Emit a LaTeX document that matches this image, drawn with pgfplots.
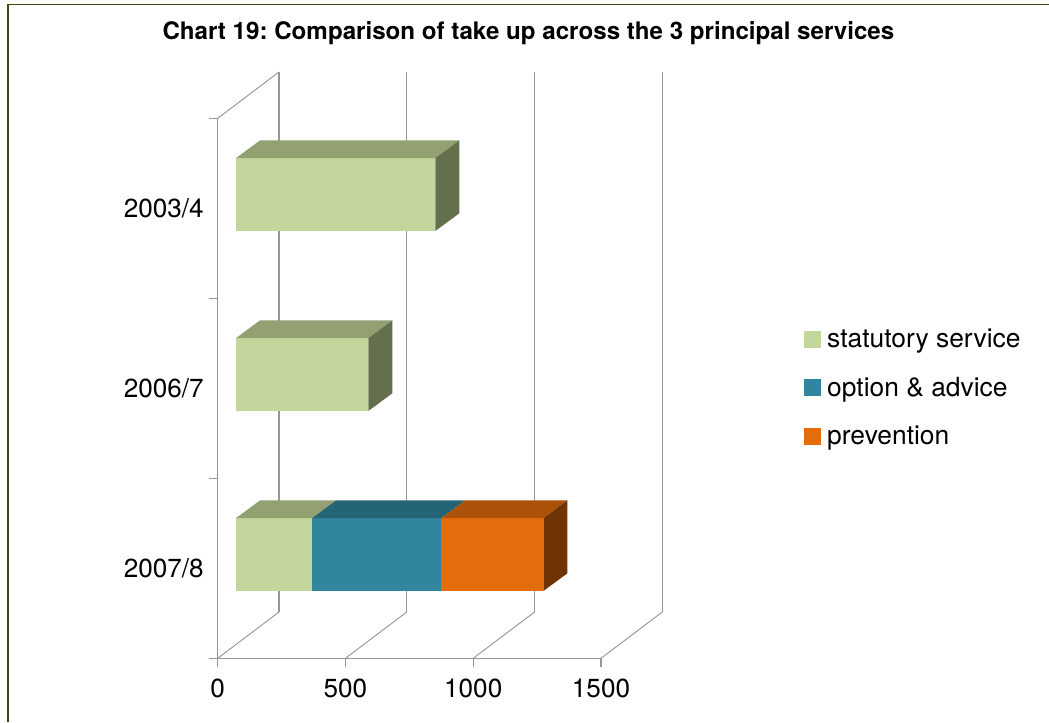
\documentclass[border=0pt]{standalone}
\usepackage{pgfplots}
\pgfplotsset{compat=1.18}
\usepackage{fontspec}
\setmainfont{TeX Gyre Heros}
\frenchspacing

\definecolor{greenfront}{HTML}{C3D69B}
\definecolor{greentop}{HTML}{92A072}
\definecolor{greenside}{HTML}{64704C}
\definecolor{tealfront}{HTML}{31859C}
\definecolor{tealtop}{HTML}{256475}
\definecolor{orangefront}{HTML}{E46C0A}
\definecolor{orangetop}{HTML}{AB5108}
\definecolor{orangeside}{HTML}{6E3406}
\definecolor{gridgray}{HTML}{969696}
\definecolor{framecol}{HTML}{45450F}

% one stacked block: start value, length, category level, front and top colours
\newcommand{\stackblock}[5]{%
  \pgfmathsetmacro{\xa}{71.6+#1}%
  \pgfmathsetmacro{\xb}{71.6+#1+#2}%
  \pgfmathsetmacro{\xc}{\xa+94}%
  \pgfmathsetmacro{\xd}{\xb+94}%
  \pgfmathsetmacro{\yb}{#3+0.374}%
  \pgfmathsetmacro{\yt}{\yb+0.405}%
  \pgfmathsetmacro{\ybk}{\yt+0.0983}%
  \addplot[forget plot,fill=#4,draw=none] coordinates {(\xa,\yb)(\xb,\yb)(\xb,\yt)(\xa,\yt)};
  \addplot[forget plot,fill=#5,draw=none] coordinates {(\xa,\yt)(\xb,\yt)(\xd,\ybk)(\xc,\ybk)};
}
% right-hand end face of a stack: end value, category level, colour
\newcommand{\stackend}[3]{%
  \pgfmathsetmacro{\xb}{71.6+#1}%
  \pgfmathsetmacro{\xd}{\xb+94}%
  \pgfmathsetmacro{\yb}{#2+0.374}%
  \pgfmathsetmacro{\yt}{\yb+0.405}%
  \addplot[forget plot,fill=#3,draw=none] coordinates {(\xb,\yb)(\xd,\yb+0.0983)(\xd,\yt+0.0983)(\xb,\yt)};
}

\begin{document}
\begin{tikzpicture}
\path[use as bounding box] (0,0) rectangle (786.75pt,541.5pt);
\draw[framecol,line width=0.8pt] (786.75pt,538pt) -- (6pt,538pt) -- (6pt,0pt);
\node[font=\bfseries\fontsize{18.1pt}{22pt}\selectfont] at (396.3pt,516.6pt)
  {Chart 19: Comparison of take up across the 3 principal services};

\begin{axis}[
  at={(163.275pt,47.775pt)}, anchor=south west,
  scale only axis, width=333.225pt, height=439.725pt,
  xmin=0, xmax=1738.7, ymin=0, ymax=3.2572,
  clip=false, no markers,
  axis line style={draw=none},
  xtick={0,500,1000,1500},
  ytick={0.5,1.5,2.5},
  yticklabels={2007/8,2006/7,2003/4},
  minor ytick={0,1,2,3},
  xtick pos=bottom, ytick pos=left,
  tick align=outside,
  major tick length=6.75pt, minor tick length=6.75pt,
  major y tick style={draw=none},
  minor y tick style={gridgray,line width=0.9pt},
  major x tick style={gridgray,line width=0.9pt},
  every tick label/.append style={font=\fontsize{19.6pt}{23pt}\selectfont,text=black},
  x tick label style={/pgf/number format/assume math mode=true,/pgf/number format/1000 sep={},yshift=-5.5pt},
  y tick label style={xshift=-0.2pt},
  legend image code/.code={\path[#1] (0pt,-6.4pt) rectangle (12.75pt,6.4pt);},
  legend style={draw=none,fill=none,at={(439.7pt,203pt)},anchor=west,
    font=\fontsize{19.8pt}{23pt}\selectfont,
    row sep=20.6pt,inner sep=0pt,
    /tikz/column 1/.style={column sep=4.5pt},
    nodes={inner sep=0pt,anchor=west}},
  legend cell align=left,
]
\addlegendimage{fill=greenfront,draw=none}
\addlegendentry{statutory service}
\addlegendimage{fill=tealfront,draw=none}
\addlegendentry{option \& advice}
\addlegendimage{fill=orangefront,draw=none}
\addlegendentry{prevention}

% walls: baseline, left edge, floor diagonals and back verticals
\addplot[forget plot,gridgray,line width=0.9pt] coordinates {(0,0)(1500,0)};
\addplot[forget plot,gridgray,line width=0.9pt] coordinates {(0,0)(0,3)};
\addplot[forget plot,gridgray,line width=0.7pt] coordinates {(0,3)(239.9,3.2572)};
\addplot[forget plot,gridgray,line width=0.7pt] coordinates {(0,0)(239.9,0.2572)};
\addplot[forget plot,gridgray,line width=0.7pt] coordinates {(500,0)(739.9,0.2572)};
\addplot[forget plot,gridgray,line width=0.7pt] coordinates {(1000,0)(1239.9,0.2572)};
\addplot[forget plot,gridgray,line width=0.7pt] coordinates {(1500,0)(1739.9,0.2572)};
\addplot[forget plot,gridgray,line width=0.9pt] coordinates {(239.9,0.2572)(239.9,3.2572)};
\addplot[forget plot,gridgray,line width=0.9pt] coordinates {(739.9,0.2572)(739.9,3.2572)};
\addplot[forget plot,gridgray,line width=0.9pt] coordinates {(1239.9,0.2572)(1239.9,3.2572)};
\addplot[forget plot,gridgray,line width=0.9pt] coordinates {(1739.9,0.2572)(1739.9,3.2572)};

% 2003/4
\stackblock{0}{780}{2}{greenfront}{greentop}
\stackend{780}{2}{greenside}
% 2006/7
\stackblock{0}{518}{1}{greenfront}{greentop}
\stackend{518}{1}{greenside}
% 2007/8
\stackblock{0}{298}{0}{greenfront}{greentop}
\stackblock{298}{505}{0}{tealfront}{tealtop}
\stackblock{803}{400}{0}{orangefront}{orangetop}
\stackend{1203}{0}{orangeside}
\end{axis}
\end{tikzpicture}
\end{document}
